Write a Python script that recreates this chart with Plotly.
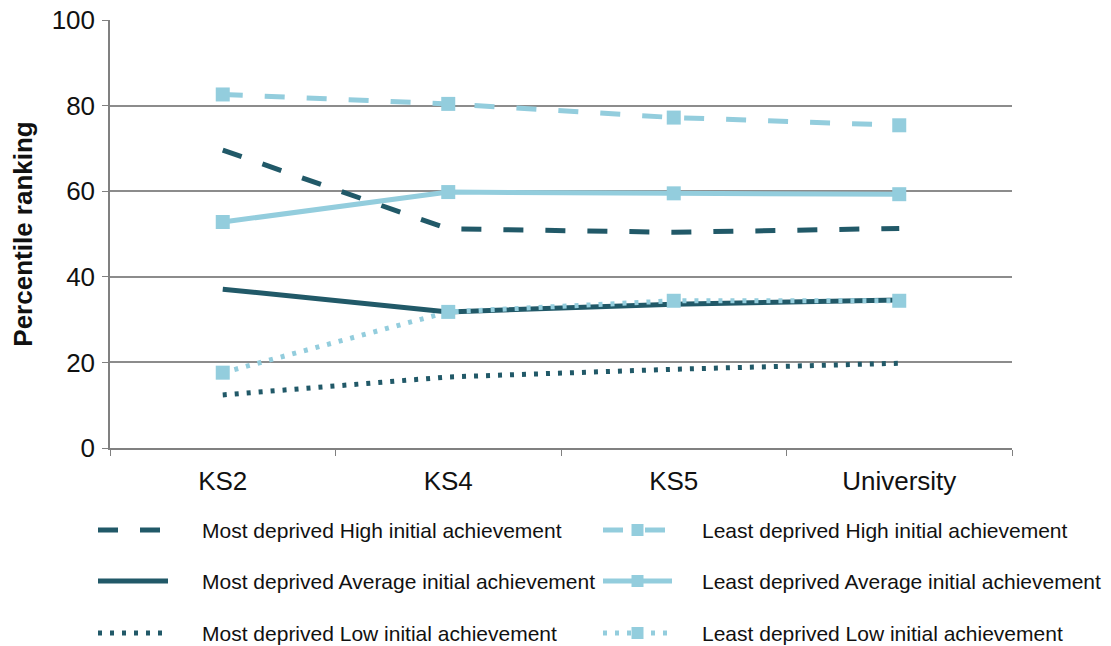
import plotly.graph_objects as go

stages = ["KS2", "KS4", "KS5", "University"]

most_high = [69.6, 51.2, 50.4, 51.3]
most_avg = [37.1, 31.8, 33.6, 34.6]
most_low = [12.4, 16.6, 18.4, 19.8]
least_high = [82.6, 80.4, 77.2, 75.4]
least_avg = [52.8, 59.8, 59.5, 59.3]
least_low = [17.6, 31.8, 34.4, 34.4]

names = [
    "Most deprived High initial achievement",
    "Most deprived Average initial achievement",
    "Most deprived Low initial achievement",
    "Least deprived High initial achievement",
    "Least deprived Average initial achievement",
    "Least deprived Low initial achievement",
]

DARK = "#215968"
LIGHT = "#93CDDD"
FONT = "Liberation Sans, Arial"

series = [
    (names[0], most_high, DARK, "20px,22px", False),
    (names[1], most_avg, DARK, "solid", False),
    (names[2], most_low, DARK, "4px,8px", False),
    (names[3], least_high, LIGHT, "20px,22px", True),
    (names[4], least_avg, LIGHT, "solid", True),
    (names[5], least_low, LIGHT, "4px,8px", True),
]

fig = go.Figure()
for name, vals, col, dash, mk in series:
    fig.add_trace(go.Scatter(
        x=stages, y=vals, name=name,
        mode="lines+markers" if mk else "lines",
        line=dict(color=col, width=5, dash=dash),
        marker=dict(symbol="square", size=14, color=col),
        showlegend=False,
    ))

# the page has an 8px body margin, so the figure is sized/offset to compensate
FW, FH = 1103, 638
L, T = 102, 12
PW, PH = 902, 428
R = FW - L - PW
B = FH - T - PH

def px(x):  # reference-page x -> paper
    return (x - 110) / PW
def py(y):  # reference-page y -> paper
    return (448 - y) / PH

rows = [530, 581, 633]
shapes = []
annotations = []
for i, (name, vals, col, dash, mk) in enumerate(series):
    r = rows[i % 3]
    if i < 3:
        x0, x1, tx = 98, 168, 200
    else:
        x0, x1, tx = 603, 672, 700
    shapes.append(dict(type="line", xref="paper", yref="paper",
                       x0=px(x0), x1=px(x1), y0=py(r), y1=py(r),
                       line=dict(color=col, width=5, dash=dash)))
    if mk:
        cx = (x0 + x1) / 2
        shapes.append(dict(type="rect", xref="paper", yref="paper",
                           x0=px(cx - 6), x1=px(cx + 6), y0=py(r - 6), y1=py(r + 6),
                           fillcolor=col, line=dict(width=0)))
    annotations.append(dict(text=name, xref="paper", yref="paper",
                            x=px(tx), y=py(r), xanchor="left", yanchor="middle",
                            showarrow=False,
                            font=dict(size=21, color="#111111", family=FONT)))

fig.update_layout(
    width=FW, height=FH,
    margin=dict(l=L, r=R, t=T, b=B, autoexpand=False),
    paper_bgcolor="white", plot_bgcolor="white",
    font=dict(family=FONT, color="#111111"),
    shapes=shapes, annotations=annotations,
    xaxis=dict(type="category", showgrid=False, showline=True, linecolor="#808080",
               linewidth=1.5, ticks="outside", tickson="boundaries", ticklen=6,
               tickcolor="#808080", tickfont=dict(size=26, color="#111111"),
               ticklabelstandoff=9, ticklabeloverflow="allow",
               range=[-0.5, 3.5], automargin=False),
    yaxis=dict(range=[0, 100], dtick=20, showgrid=True, gridcolor="#8c8c8c",
               gridwidth=1.5, showline=True, linecolor="#808080", linewidth=1.5,
               ticks="outside", ticklen=6, tickcolor="#808080",
               tickfont=dict(size=26, color="#111111"), ticklabelstandoff=2,
               ticklabeloverflow="allow",
               title=dict(text="<b>Percentile ranking</b>", font=dict(size=26, color="#111111"),
                          standoff=16),
               zeroline=False, automargin=False),
)

fig.write_html("out.html")
